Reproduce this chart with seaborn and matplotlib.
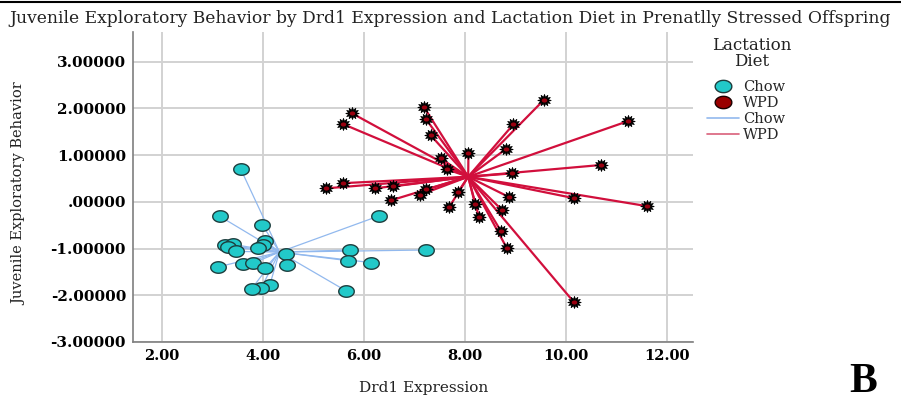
import numpy as np
import pandas as pd
import matplotlib
matplotlib.use("Agg")
import matplotlib.pyplot as plt
from matplotlib.lines import Line2D
from matplotlib.ticker import FuncFormatter, FixedLocator
import seaborn as sns

# ---- data ----
chow_x = [3.56, 3.15, 3.99, 3.25, 3.41, 3.31, 3.47, 4.04, 4.01, 3.91, 4.45, 4.48,
          3.61, 3.81, 3.12, 4.05, 4.14, 3.97, 3.78, 5.72, 5.69, 6.15, 7.23, 6.30, 5.64]
chow_y = [0.71, -0.31, -0.49, -0.92, -0.91, -0.96, -1.06, -0.83, -0.92, -0.99, -1.11, -1.36,
          -1.33, -1.31, -1.39, -1.41, -1.77, -1.84, -1.86, -1.03, -1.26, -1.30, -1.03, -0.30, -1.90]
wpd_x = [9.56, 11.23, 5.76, 5.58, 7.19, 7.23, 7.32, 8.96, 8.81, 8.07, 7.52, 7.64,
         10.69, 8.93, 5.58, 5.25, 6.22, 6.57, 7.24, 7.11, 6.53, 7.87, 8.88, 10.16,
         11.60, 7.69, 8.20, 8.28, 8.73, 8.71, 8.83, 10.16]
wpd_y = [2.18, 1.73, 1.90, 1.67, 2.03, 1.77, 1.43, 1.66, 1.13, 1.04, 0.93, 0.70,
         0.79, 0.61, 0.40, 0.29, 0.29, 0.33, 0.27, 0.15, 0.03, 0.22, 0.10, 0.08,
         -0.09, -0.11, -0.04, -0.33, -0.17, -0.62, -0.99, -2.15]
diets = ["Chow", "WPD"]
x_ticks = [2, 4, 6, 8, 10, 12]
y_ticks = [3, 2, 1, 0, -1, -2, -3]

df = pd.DataFrame({
    "Drd1": chow_x + wpd_x,
    "Behavior": chow_y + wpd_y,
    "Diet": ["Chow"] * len(chow_x) + ["WPD"] * len(wpd_x),
})

sns.set_theme(style="white")
plt.rcParams["font.family"] = ["DejaVu Serif", "Liberation Serif"]

# horizontally stretched marker shapes (the reference image is widened)
_t = np.linspace(0, 2 * np.pi, 73)
ellipse = np.column_stack([1.35 * np.cos(_t), np.sin(_t)])
_n = 12
_ang = np.linspace(0, 2 * np.pi, 2 * _n + 1) + np.pi / 2
_r = np.where(np.arange(2 * _n + 1) % 2 == 0, 1.0, 0.55)
star = np.column_stack([1.12 * _r * np.cos(_ang), _r * np.sin(_ang)])

fig = plt.figure(figsize=(9.01, 4.04), dpi=100)
ax = fig.add_axes([0.1476, 0.1535, 0.7694 - 0.1476, 0.921 - 0.1535])

line_colors = {"Chow": "#92b9ee", "WPD": "#d10f3c"}
line_widths = {"Chow": 0.9, "WPD": 1.6}

# spokes from each point to its group centroid
for d in diets:
    sub = df[df["Diet"] == d]
    cx, cy = sub["Drd1"].mean(), sub["Behavior"].mean()
    for x, y in zip(sub["Drd1"], sub["Behavior"]):
        ax.plot([cx, x], [cy, y], color=line_colors[d], lw=line_widths[d],
                zorder=2, solid_capstyle="round")

chow = df[df["Diet"] == "Chow"]
wpd = df[df["Diet"] == "WPD"]
sns.scatterplot(data=chow, x="Drd1", y="Behavior", ax=ax, color="#22c9c9",
                edgecolor="#1d3d3d", linewidth=1.0, s=125, marker=ellipse,
                legend=False, zorder=3)
sns.scatterplot(data=wpd, x="Drd1", y="Behavior", ax=ax, color="black",
                edgecolor="black", linewidth=0.6, s=92, marker=star,
                legend=False, zorder=3)
sns.scatterplot(data=wpd, x="Drd1", y="Behavior", ax=ax, color="#9a0010",
                edgecolor="#9a0010", linewidth=0, s=16, marker=ellipse,
                legend=False, zorder=4)

ax.set_xlim(1.43, 12.52)
ax.set_ylim(-3.0, 3.64)
ax.xaxis.set_major_locator(FixedLocator(x_ticks))
ax.yaxis.set_major_locator(FixedLocator(y_ticks))
ax.xaxis.set_major_formatter(FuncFormatter(lambda v, p: f"{v:.2f}"))


def yfmt(v, p):
    if abs(v) < 1e-9:
        return ".00000"
    return f"{v:.5f}"


ax.yaxis.set_major_formatter(FuncFormatter(yfmt))
ax.grid(True, color="#d2d2d2", lw=1.4, zorder=0)
ax.set_axisbelow(True)
for s in ["top", "right"]:
    ax.spines[s].set_visible(False)
for s in ["left", "bottom"]:
    ax.spines[s].set_color("#7f7f7f")
    ax.spines[s].set_linewidth(1.2)
ax.tick_params(axis="both", length=0, pad=5, labelsize=10.5, labelcolor="black")
ax.tick_params(axis="y", labelsize=11)
for lab in ax.get_xticklabels() + ax.get_yticklabels():
    lab.set_fontweight("bold")

ax.set_xlabel("Drd1 Expression", fontsize=11, color="#222222")
ax.xaxis.set_label_coords(0.518, -0.125)
ax.set_ylabel("Juvenile Exploratory Behavior", fontsize=10.5, color="#222222")
ax.yaxis.set_label_coords(-0.19, 0.48)

fig.text(0.5, 0.955, "Juvenile Exploratory Behavior by Drd1 Expression and Lactation Diet in Prenatlly Stressed Offspring",
         ha="center", va="center", fontsize=12.3, color="#222222")
fig.text(0.958, 0.055, "B", ha="center", va="center", fontsize=30, fontweight="bold",
         color="black", family="Liberation Serif")
fig.add_artist(Line2D([0, 1], [0.995, 0.995], transform=fig.transFigure, color="black", lw=1.5))

# legend title drawn separately to match its spacing
fig.text(752 / 901, 1 - 45 / 404, "Lactation", ha="center", va="center", fontsize=12, color="#222222")
fig.text(752 / 901, 1 - 61 / 404, "Diet", ha="center", va="center", fontsize=12, color="#222222")

handles = [
    Line2D([], [], marker=ellipse, ls="", markersize=12, markerfacecolor="#22c9c9",
           markeredgecolor="#1d3d3d", markeredgewidth=1.0),
    Line2D([], [], marker=ellipse, ls="", markersize=12, markerfacecolor="#9a0000",
           markeredgecolor="#1a0000", markeredgewidth=1.0),
    Line2D([], [], color=line_colors["Chow"], lw=1.2),
    Line2D([], [], color="#d9607a", lw=1.2),
]
leg = fig.legend(handles, ["Chow", "WPD", "Chow", "WPD"],
                 loc="upper left", bbox_to_anchor=(0.785, 0.802), frameon=False,
                 fontsize=10.5, handlelength=2.2, handletextpad=0.25,
                 labelspacing=0.14, borderaxespad=0, borderpad=0)

fig.savefig("out.png", dpi=100)
